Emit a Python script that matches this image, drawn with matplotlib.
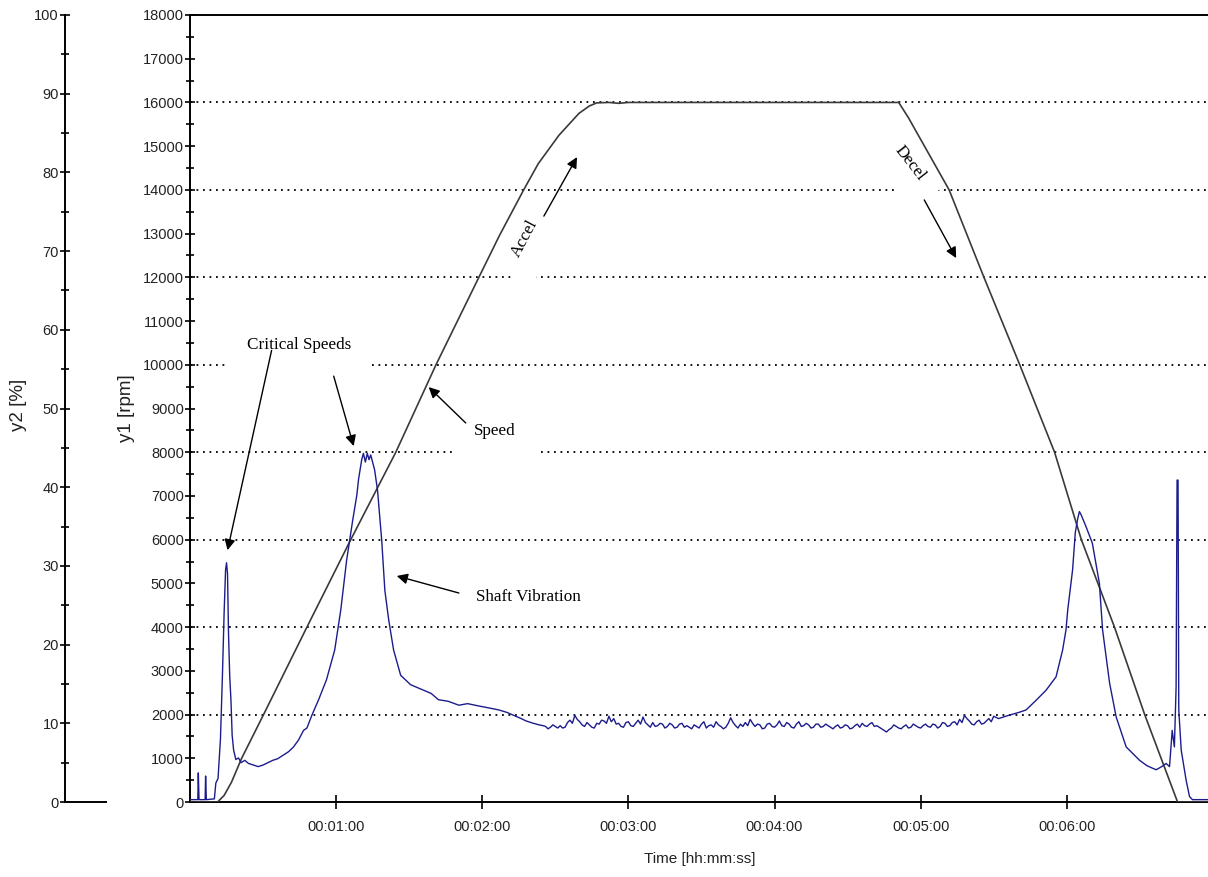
import numpy as np
import matplotlib
matplotlib.use("Agg")
import matplotlib.pyplot as plt
from matplotlib.ticker import MultipleLocator, FuncFormatter

plt.rcParams["font.family"] = ["Liberation Sans", "DejaVu Sans"]

# --- data (time in seconds) ---
SPEED_T = [0, 11.3, 14, 17, 21.2, 30.2, 48, 66, 84.5, 101, 118.6, 127, 137, 143,
           151.5, 159.7, 164, 167, 172, 176, 180, 240, 291, 295, 311.7, 326,
           340.7, 355, 366, 379.6, 392, 405.5, 418]
SPEED_RPM = [0, 0, 150, 450, 1000, 2000, 4000, 6000, 8000, 10000, 12000, 12950,
             14000, 14600, 15250, 15750, 15920, 15990, 16000, 15980, 16000, 16000,
             16000, 15650, 14000, 12000, 10000, 8000, 6000, 4000, 2000, 0, 0]

VIB_T_START = [0, 3.2, 3.4, 3.7, 6.2, 6.4, 6.7, 10.0, 10.6, 11.5, 12.5, 13.3, 14.0,
               14.6, 15.0, 15.4, 15.8, 16.3, 16.8, 17.3, 17.9, 18.8, 19.9, 21, 22.5,
               24, 26, 28, 30, 32, 34, 36, 38, 40.5, 42.5, 44.6, 46.6, 48, 50, 52.8,
               56, 59.4, 61.9, 64.3, 66.8, 68.5, 69.2, 70.5, 71.2, 72, 72.8, 73.5,
               74.2, 75.8, 77, 78.7, 80, 81.6, 83.6, 86.5, 90.6, 96, 99, 102, 106,
               110.4, 114, 118.6, 122, 126.8, 130, 133, 136, 138, 141, 143.4, 145]
VIB_PCT_START = [0.3, 0.3, 3.7, 0.3, 0.3, 3.3, 0.3, 0.4, 2.4, 3.0, 8.0, 16, 24,
                 29.5, 30.4, 29, 21.5, 16, 13, 8.5, 6.6, 5.4, 5.6, 5.0, 5.3, 4.9,
                 4.7, 4.5, 4.7, 5.0, 5.3, 5.5, 5.9, 6.4, 7.0, 7.9, 9.1, 9.4, 11.0,
                 13.0, 15.5, 19.3, 24.4, 30.7, 35.8, 39.0, 41, 43.5, 44.3, 43.2, 44.3,
                 43.5, 44.1, 42.2, 39.6, 33.3, 26.9, 23.1, 19.3, 16.1, 14.9, 14.2,
                 13.8, 13.0, 12.8, 12.3, 12.5, 12.2, 12.0, 11.7, 11.4, 11.0, 10.6,
                 10.3, 10.0, 9.8, 9.7]

PLATEAU_PCT = [9.6, 9.3, 9.5, 9.8, 9.6, 9.4, 9.7, 9.4, 9.5, 10.1, 10.4, 10.0, 11.0,
               10.5, 10.2, 9.8, 9.6, 10.1, 9.8, 9.5, 9.4, 10.0, 9.9, 10.4, 10.3,
               10.0, 10.9, 10.2, 10.6, 9.9, 10.0, 9.6, 9.5, 10.1, 10.2, 9.7, 9.6,
               10.0, 10.4, 9.9, 10.8, 10.1, 9.8, 9.5, 10.1, 9.6, 9.7, 10.0, 9.9, 9.4,
               9.6, 10.0, 9.8, 9.4, 9.5, 9.9, 10.0, 9.5, 9.7, 9.5, 9.3, 9.8, 9.6,
               9.4, 9.9, 10.2, 9.4, 9.7, 9.8, 9.5, 10.2, 9.8, 9.6, 9.3, 9.5, 10.0,
               10.7, 10.1, 9.7, 9.4, 9.9, 9.6, 10.1, 9.7, 10.5, 10.0, 9.6, 9.9, 9.8,
               9.3, 9.4, 9.9, 10.0, 9.6, 9.5, 9.8, 10.3, 9.7, 9.6, 10.1, 9.9, 9.5,
               9.4, 9.9, 10.2, 9.6, 9.7, 10.0, 9.8, 9.4, 9.5, 9.9, 9.9, 9.5, 9.6,
               9.9, 9.7, 9.5, 9.3, 9.6, 9.8, 9.4, 9.5, 9.8, 9.7, 9.3, 9.4, 9.7, 9.9,
               9.5, 10.0, 9.7, 9.6, 9.9, 10.1, 9.6, 9.7, 9.5, 9.3, 9.1, 8.9, 9.2,
               9.4, 9.8, 9.6, 9.4, 9.3, 9.6, 9.8, 9.4, 9.5, 9.9, 9.7, 9.5, 9.4, 9.7,
               9.9, 9.6, 9.5, 9.9, 9.8, 9.4, 9.6, 10.1, 10.0, 9.6, 9.7, 10.1, 10.2,
               9.8, 10.5, 10.1, 11.0, 10.6, 10.3, 9.9, 9.8, 10.2, 10.4, 9.9, 10.0,
               10.3, 10.6, 10.2, 10.9]
PLATEAU_T = list(range(146, 146 + len(PLATEAU_PCT)))

VIB_T_END = [332, 336, 340.5, 343.3, 347, 351.5, 355.6, 358.3, 359.7, 360.4, 362.4,
             363.5, 364.5, 365.2, 365.9, 367.9, 370.5, 373.4, 374.7, 377.6, 380.3,
             384.4, 389.9, 393, 396.7, 399, 400.8, 402.2, 403.3, 404.2, 404.9,
             405.3, 405.7, 406, 407, 409, 410.4, 411.6, 418]
VIB_PCT_END = [10.6, 11.0, 11.4, 11.7, 12.8, 14.2, 15.9, 19.3, 21.9, 24.4, 29.5,
               34.2, 36.0, 36.9, 36.5, 35.0, 32.9, 27.8, 21.9, 15.1, 10.8, 7.0, 5.3,
               4.6, 4.1, 4.5, 4.9, 4.5, 9.1, 7.0, 14.6, 40.9, 40.9, 11.7, 6.6, 2.8,
               0.7, 0.3, 0.3]

GRID_RPM = [2000, 4000, 6000, 8000, 10000, 12000, 14000, 16000]
TIME_TICKS = [60, 120, 180, 240, 300, 360]


def hms(v, _):
    s = int(round(v))
    return f"00:{s // 60:02d}:{s % 60:02d}"


fig = plt.figure(figsize=(12.08, 8.77), dpi=100)
ax = fig.add_axes([0.1573, 0.0855, 0.8427, 0.8974])
ax.set_xlim(0, 418)
ax.set_ylim(0, 18000)

ax.hlines(GRID_RPM, 0, 418, colors="black", linestyles=(0, (1, 2.6)),
          linewidth=1.3, zorder=1)
ax.plot(SPEED_T, SPEED_RPM, color="#3a3a3a", linewidth=1.2, zorder=3)

# annotations (white boxes break the dotted grid like the original)
serif = ["Liberation Serif", "DejaVu Serif"]
box = dict(boxstyle="square,pad=1.0", facecolor="white", edgecolor="none")
ax.text(44.6, 10450, "Critical Speeds", family=serif, fontsize=12.3,
        ha="center", va="center", bbox=box, zorder=2)
ax.text(125.2, 8480, "Speed", family=serif, fontsize=12.3,
        ha="center", va="center",
        bbox=dict(boxstyle="square,pad=1.3", facecolor="white", edgecolor="none"),
        zorder=2)
ax.text(139.1, 4690, "Shaft Vibration", family=serif, fontsize=12.3,
        ha="center", va="center", zorder=2)
ax.text(137.5, 12900, "Accel", family=serif, fontsize=12.3, rotation=62,
        rotation_mode="anchor", ha="center", va="center",
        bbox=dict(boxstyle="square,pad=1.2", facecolor="white", edgecolor="none"),
        zorder=2)
ax.text(295.5, 14600, "Decel", family=serif, fontsize=12.3, rotation=-52,
        rotation_mode="anchor", ha="center", va="center",
        bbox=dict(boxstyle="square,pad=1.1", facecolor="white", edgecolor="none"),
        zorder=2)

arrows = [((33.5, 10330), (15.4, 5760)),
          ((59.0, 9740), (67.2, 8140)),
          ((113.2, 8670), (98.0, 9490)),
          ((110.4, 4780), (84.9, 5170)),
          ((145.3, 13400), (158.9, 14750)),
          ((301.5, 13770), (314.6, 12440))]
for tail, head in arrows:
    ax.annotate("", xy=head, xytext=tail,
                arrowprops=dict(arrowstyle="-|>", color="black", lw=1.0,
                                mutation_scale=16, shrinkA=0, shrinkB=0),
                zorder=4)

# spines / ticks main axis
for side in ("top", "bottom", "left"):
    ax.spines[side].set_linewidth(1.4)
ax.spines["right"].set_visible(False)
ax.yaxis.set_major_locator(MultipleLocator(1000))
ax.yaxis.set_minor_locator(MultipleLocator(500))
ax.tick_params(axis="y", which="major", direction="inout", length=7, width=1.2,
               labelsize=10.5, pad=1, labelcolor="#222222", right=False)
ax.tick_params(axis="y", which="minor", direction="inout", length=6, width=1.2,
               right=False)
ax.set_xticks(TIME_TICKS)
ax.xaxis.set_major_formatter(FuncFormatter(hms))
ax.tick_params(axis="x", direction="inout", length=10, width=1.2, labelsize=10.5,
               pad=8, labelcolor="#222222", top=False)
ax.set_ylabel("y1 [rpm]", fontsize=13.5, color="#222222")
ax.yaxis.set_label_coords(-0.054, 0.5)
ax.set_xlabel("Time [hh:mm:ss]", fontsize=11, color="#222222")
ax.xaxis.set_label_coords(0.501, -0.064)

# secondary axis (y2, %) drawn on a detached left spine
ax2 = ax.twinx()
ax2.set_ylim(0, 100)
vib_t = VIB_T_START + PLATEAU_T + VIB_T_END
vib_pct = VIB_PCT_START + PLATEAU_PCT + VIB_PCT_END
ax2.plot(vib_t, vib_pct, color="#1c1c8c", linewidth=1.0, zorder=3)
ax2.spines["right"].set_visible(False)
ax2.spines["top"].set_visible(False)
ax2.spines["bottom"].set_visible(False)
ax2.spines["left"].set_visible(True)
ax2.spines["left"].set_position(("axes", -0.1228))
ax2.spines["left"].set_linewidth(1.4)
ax2.yaxis.tick_left()
ax2.yaxis.set_label_position("left")
ax2.yaxis.set_major_locator(MultipleLocator(10))
ax2.yaxis.set_minor_locator(MultipleLocator(5))
ax2.tick_params(axis="y", which="major", direction="inout", length=7, width=1.2,
                labelsize=10.5, pad=1, labelcolor="#222222")
ax2.tick_params(axis="y", which="minor", direction="inout", length=6, width=1.2)
ax2.plot([-0.1228, -0.083], [0, 0], transform=ax2.transAxes, color="black",
         linewidth=1.4, clip_on=False)
ax2.set_ylabel("y2 [%]", fontsize=13.5, color="#222222")
ax2.yaxis.set_label_coords(-0.160, 0.505)

fig.savefig("out.png", dpi=100)
